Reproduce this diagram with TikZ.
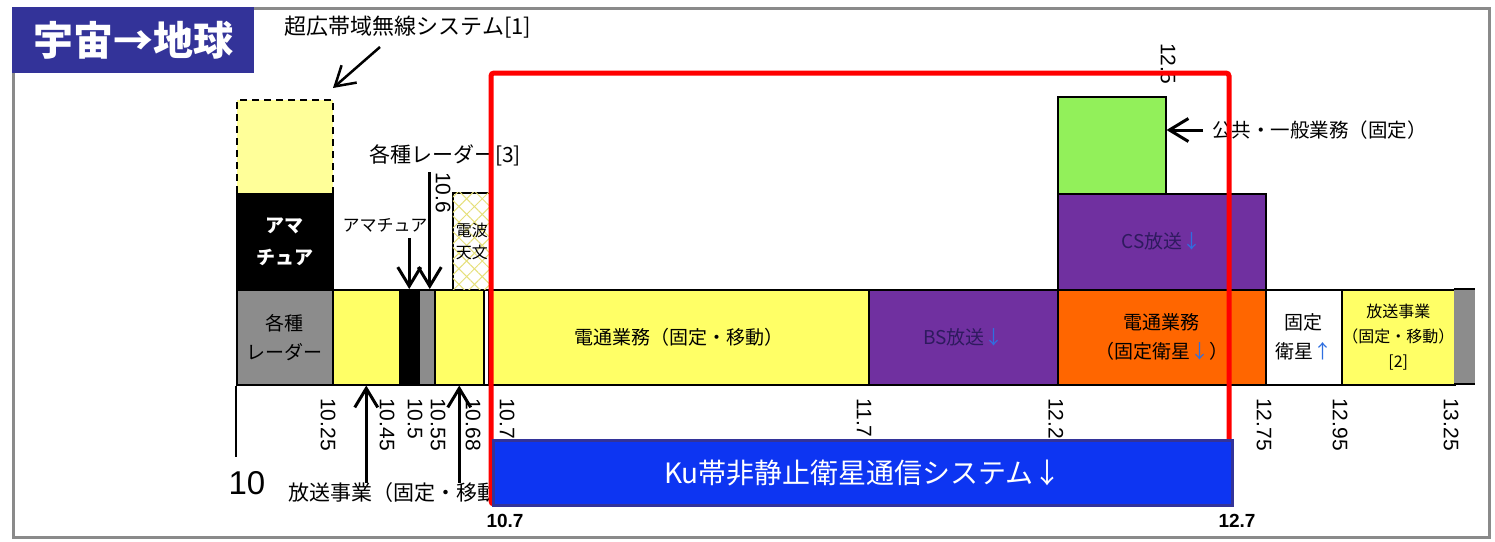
\documentclass[tikz,border=0pt]{standalone}
\usepackage{fontspec}
\setmainfont{Liberation Sans}
\newfontfamily\jp{Noto Sans CJK JP}
\usetikzlibrary{arrows.meta,patterns.meta}

\definecolor{titleblue}{HTML}{333399}
\definecolor{kublue}{HTML}{0D35F2}
\definecolor{framegray}{HTML}{8A8A8A}
\definecolor{bandyellow}{HTML}{FFFF66}
\definecolor{uwbyellow}{HTML}{FFFF99}
\definecolor{bandgray}{HTML}{8C8C8C}
\definecolor{bandpurple}{HTML}{7030A0}
\definecolor{bandorange}{HTML}{FF6600}
\definecolor{bandgreen}{HTML}{92F05A}
\definecolor{hatchyellow}{HTML}{E6E07A}
\definecolor{cstext}{HTML}{2E1A5E}
\definecolor{arrowblue}{HTML}{2F6FE0}

\tikzset{
  band/.style = {draw = black, line width = 1.5pt, anchor = north west, inner sep = 0pt, align = center, font = \jp\fontsize{19}{29}\selectfont},
  freq/.style = {rotate = -90, anchor = west, inner sep = 0pt, font = \fontsize{21}{21}\selectfont},
  lbl/.style = {inner sep = 0pt, font = \jp\fontsize{21}{24}\selectfont},
  arr/.style = {-{Straight Barb[length = 19pt, width = 23pt]}, line width = 3pt}
}

\begin{document}
\begin{tikzpicture}[x = 1pt, y = -1pt]
\useasboundingbox (0,0) rectangle (1495,541);
\fill [white] (0,0) rectangle (1495,541);
\draw [framegray, line width = 3pt] (13,8) rectangle (1489,537);
\node [fill = titleblue, minimum width = 242pt, minimum height = 66pt, anchor = north west, inner sep = 0pt, text = white, font = \jp\bfseries\fontsize{40}{40}\selectfont] (title) at (12,7) {宇宙→地球};

\node [band, fill = uwbyellow, line width = 2.2pt, dash pattern = on 7pt off 5pt, minimum width = 96pt, minimum height = 94pt] (uwb) at (236,99) {};
\node [band, fill = black, text = white, font = \jp\bfseries\fontsize{19}{32}\selectfont, minimum width = 96pt, minimum height = 96pt] (ama1) at (236,193) {アマ\\チュア};
\node [band, fill = bandgray, minimum width = 96pt, minimum height = 95pt] (radar1) at (236,289) {各種\\レーダー};
\node [band, fill = bandyellow, minimum width = 67pt, minimum height = 95pt] (bc1) at (332,289) {};
\node [band, fill = black, minimum width = 19pt, minimum height = 95pt] (ama2) at (399,289) {};
\node [band, fill = bandgray, minimum width = 16pt, minimum height = 95pt] (radar2) at (418,289) {};
\node [band, fill = bandyellow, minimum width = 49pt, minimum height = 95pt] (bc2) at (434,289) {};
\node [band, fill = white, minimum width = 5pt, minimum height = 95pt] (gap) at (483,289) {};
\node [band, fill = bandyellow, minimum width = 380pt, minimum height = 95pt] (tele) at (488,289) {電通業務（固定・移動）};
\node [band, fill = bandpurple, text = cstext, minimum width = 189pt, minimum height = 95pt] (bs) at (868,289) {BS放送\textcolor{arrowblue}{↓}};
\node [band, fill = bandorange, minimum width = 208pt, minimum height = 95pt] (fss) at (1057,289) {電通業務\\（固定衛星\textcolor{arrowblue}{↓}）};
\node [band, fill = white, minimum width = 76pt, minimum height = 95pt] (fixsat) at (1265,289) {固定\\衛星\textcolor{arrowblue}{↑}};
\node [band, fill = bandyellow, font = \jp\fontsize{16}{25}\selectfont, minimum width = 113pt, minimum height = 95pt] (bc3) at (1341,289) {放送事業\\（固定・移動）\\{[2]}};
\fill [bandgray] (1454,289) rectangle (1475,384);
\draw [line width = 1.5pt] (1454,289) -- (1475,289) (1454,384) -- (1475,384);
\node [band, fill = bandpurple, text = cstext, minimum width = 208pt, minimum height = 96pt] (cs) at (1057,193) {CS放送\textcolor{arrowblue}{↓}};
\node [band, fill = bandgreen, minimum width = 108pt, minimum height = 97pt] (pub) at (1057,96) {};
\node [band, fill = white, postaction = {pattern = {Lines[angle = 45, distance = 11pt, line width = 1pt]}, pattern color = hatchyellow}, postaction = {pattern = {Lines[angle = -45, distance = 11pt, line width = 1pt]}, pattern color = hatchyellow}, font = \jp\fontsize{16}{22}\selectfont, minimum width = 38pt, minimum height = 97pt] (ras) at (452,192) {電波\\天文};

\node [lbl, font = \jp\fontsize{22}{24}\selectfont] (uwblbl) at (408,27) {超広帯域無線システム[1]};
\node [lbl] (radarlbl) at (445,155) {各種レーダー[3]};
\node [lbl, font = \jp\fontsize{17}{20}\selectfont] (amalbl) at (385,225) {アマチュア};
\node [lbl, font = \jp\fontsize{19.5}{24}\selectfont, anchor = west] (publbl) at (1212,130) {公共・一般業務（固定）};
\node [lbl, anchor = west] (bclbl) at (288,493) {放送事業（固定・移動）};

\draw [line width = 2pt] (radar1.south west) -- (236,457);
\node [inner sep = 0pt, font = \fontsize{33}{33}\selectfont] (f10) at (247,483) {10};
\foreach \x/\f in {328/10.25, 387/10.45, 415/10.5, 438/10.55, 473/10.68, 507/10.7, 864/11.7, 1056/12.2, 1264/12.75, 1340/12.95, 1451/13.25}
  \node [freq] (f\x) at (\x,398) {\f};
\node [freq] (f106) at (443,172) {10.6};
\node [freq] (f125) at (1168,43) {12.5};

\coordinate (uwbtail) at (380,47);
\coordinate (uwbtip) at (333,88);
\draw [arr, line width = 2.5pt] (uwbtail) -- (uwbtip);
\draw [arr] ([yshift = -6pt]ama2.north |- amalbl.south) -- (ama2.north);
\draw [arr] ([xshift = 3pt]radar2.north |- f106.west) -- ([xshift = 3pt]radar2.north);
\draw [arr] (bc1.south |- bclbl.north) -- (bc1.south);
\draw [arr] (bc2.south |- bclbl.north) -- (bc2.south);
\draw [arr] ([xshift = -9pt]publbl.west) -- (pub.east |- publbl.west);

\draw [red, line width = 5pt, rounded corners = 3pt] (491,73) rectangle (1229,504);
\node [fill = kublue, draw = titleblue, line width = 3pt, minimum width = 739pt, minimum height = 65pt, anchor = north west, inner sep = 0pt, text = white, font = \jp\fontsize{28}{28}\selectfont] (ku) at (492,439) {Ku帯非静止衛星通信システム↓};
\node [inner sep = 0pt, font = \bfseries\fontsize{19}{19}\selectfont] (lo) at (505,521) {10.7};
\node [inner sep = 0pt, font = \bfseries\fontsize{19}{19}\selectfont] (hi) at (1237,521) {12.7};
\end{tikzpicture}
\end{document}
